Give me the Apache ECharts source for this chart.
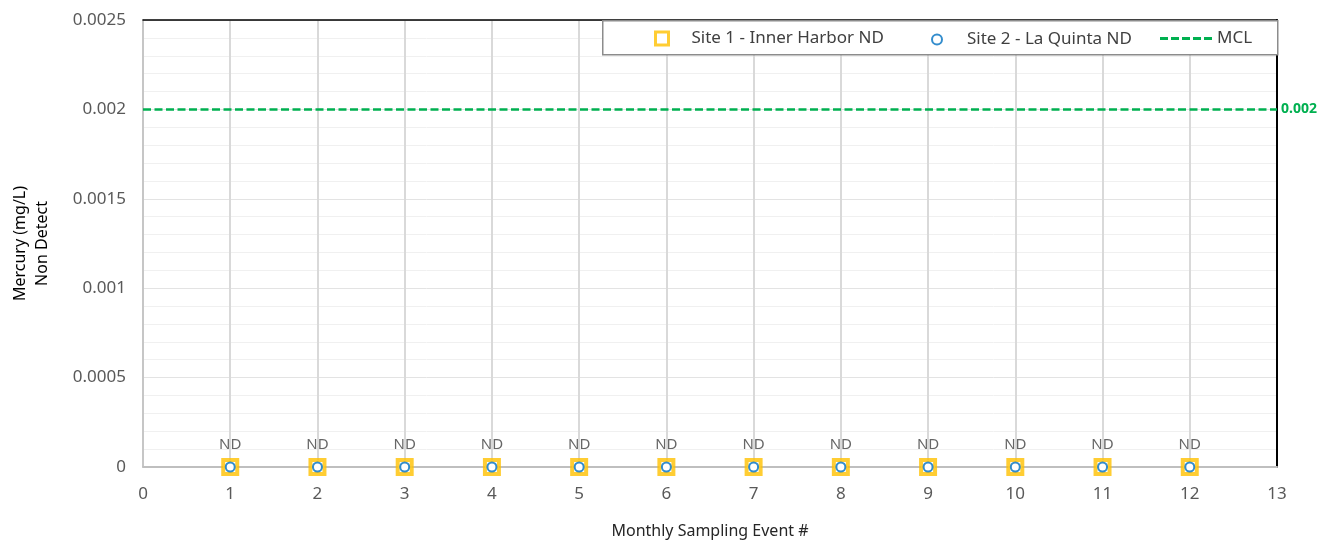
<!DOCTYPE html>
<html><head><meta charset="utf-8">
<script src="https://cdn.jsdelivr.net/npm/echarts@6/dist/echarts.min.js"></script>
<style>html,body{margin:0;padding:0;background:#fff}#c{width:1326px;height:540px}</style>
</head><body><div id="c"></div>
<script>
const events = [1,2,3,4,5,6,7,8,9,10,11,12];
const site1 = [0,0,0,0,0,0,0,0,0,0,0,0];
const site2 = [0,0,0,0,0,0,0,0,0,0,0,0];
const site1Labels = ['ND','ND','ND','ND','ND','ND','ND','ND','ND','ND','ND','ND'];
const mclX = [0,13];
const mclValue = 0.002;
const seriesNames = ['Site 1 - Inner Harbor ND','Site 2 - La Quinta ND','MCL'];

const FONT = 'Noto Sans';
const legendText = {fontFamily:FONT,fontSize:17,color:'#404040'};
const dashIcon = 'path://M0,0h8v3h-8z M11,0h8v3h-8z M22,0h8v3h-8z M33,0h8v3h-8z M44,0h8v3h-8z';
const chart = echarts.init(document.getElementById('c'));
chart.setOption({
  animation:false,
  textStyle:{fontFamily:FONT},
  grid:{left:143,right:49,top:20,bottom:73,containLabel:false,outerBoundsMode:'none'},
  graphic:[{type:'rect',left:602,top:20,z:100,shape:{width:675,height:34},style:{fill:'#fff',stroke:'#8c8c8c',lineWidth:1.5}}],
  legend:[
    {left:654,top:30,padding:0,z:110,itemWidth:13,itemHeight:13,
     textStyle:Object.assign({padding:[0,0,0,18]},legendText),
     data:[{name:seriesNames[0],itemStyle:{color:'#fff',borderColor:'#FFC000',borderWidth:3}}]},
    {left:931,top:31,padding:0,z:110,itemWidth:10,itemHeight:10,
     textStyle:Object.assign({padding:[0,0,0,20]},legendText),data:[seriesNames[1]]},
    {left:1160,top:30,padding:0,z:110,itemWidth:52,itemHeight:14,
     textStyle:legendText,data:[{name:seriesNames[2],icon:dashIcon,itemStyle:{color:'#00B050',borderWidth:0}}]}
  ],
  xAxis:[{type:'value',min:0,max:13,interval:1,position:'bottom',
    name:'Monthly Sampling Event #',nameLocation:'middle',nameGap:56,
    nameTextStyle:{fontSize:16,color:'#262626',fontFamily:FONT},
    axisLine:{show:true,onZero:false,lineStyle:{color:'#bfbfbf',width:2}},axisTick:{show:false},
    axisLabel:{fontSize:17,color:'#595959',margin:19,fontFamily:FONT},
    splitLine:{show:true,lineStyle:{color:'#d9d9d9',width:2}}},
   {type:'value',min:0,max:13,interval:1,position:'top',
    axisLine:{show:true,onZero:false,lineStyle:{color:'#000',width:1.5}},axisTick:{show:false},axisLabel:{show:false},splitLine:{show:false}}],
  yAxis:[{type:'value',min:0,max:0.0025,interval:0.0005,position:'left',
    name:'Mercury (mg/L)\nNon Detect',nameLocation:'middle',nameGap:90,
    nameTextStyle:{fontSize:16,color:'#000',lineHeight:22,fontFamily:FONT},
    axisLine:{show:true,onZero:false,lineStyle:{color:'#bfbfbf',width:1.5}},axisTick:{show:false},
    axisLabel:{fontSize:17,color:'#595959',margin:17,fontFamily:FONT},
    splitLine:{show:true,lineStyle:{color:'#e3e3e3',width:1}},
    minorTick:{show:false,splitNumber:5},minorSplitLine:{show:true,lineStyle:{color:'#f0f0f0',width:1}}},
   {type:'value',min:0,max:0.0025,interval:0.0005,position:'right',
    axisLine:{show:true,onZero:false,lineStyle:{color:'#000',width:2}},axisTick:{show:false},axisLabel:{show:false},splitLine:{show:false}}],
  series:[
    {name:seriesNames[0],type:'scatter',clip:false,symbol:'rect',symbolSize:14,z:3,
     itemStyle:{color:'#fff',borderColor:'#FFC000',borderWidth:4},
     label:{show:true,position:'top',distance:6,fontSize:15,color:'#404040',fontFamily:FONT,
       formatter:p=>site1Labels[p.dataIndex]},
     data:events.map((x,i)=>[x,site1[i]])},
    {name:seriesNames[1],type:'scatter',clip:false,symbol:'circle',symbolSize:9,z:4,
     itemStyle:{color:'#fff',borderColor:'#0070C0',borderWidth:2},
     data:events.map((x,i)=>[x,site2[i]])},
    {name:seriesNames[2],type:'line',symbol:'none',showSymbol:false,z:2,
     lineStyle:{color:'#00B050',width:2.5,type:[8,3.5]},itemStyle:{color:'#00B050'},
     endLabel:{show:true,formatter:()=>String(mclValue),color:'#00B050',fontWeight:'bold',fontSize:14,distance:4,fontFamily:FONT},
     data:mclX.map(x=>[x,mclValue])}
  ]
});
</script></body></html>
